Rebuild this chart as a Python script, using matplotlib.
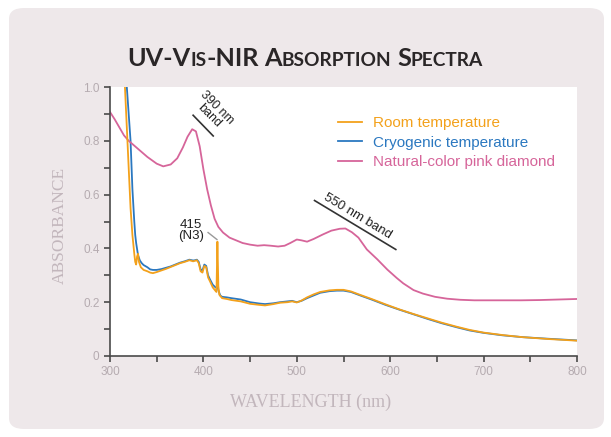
import matplotlib
matplotlib.use("Agg")
import matplotlib.pyplot as plt
from matplotlib.patches import FancyBboxPatch
from matplotlib.ticker import FixedLocator

# ---------------- data ----------------
blue_wl = [318, 320, 322, 324, 326, 327, 328, 330, 332, 334, 336, 340, 343, 346, 350, 355,
           360, 365, 370, 375, 380, 385, 389, 391, 393, 395, 397, 399, 401, 403, 405, 407,
           410, 413, 414, 415, 416, 418, 420, 425, 430, 440, 450, 460, 466, 475, 482, 490,
           495, 500, 505, 511, 518, 525, 535, 543, 550, 558, 568, 580, 595, 610, 625, 640,
           655, 671, 685, 700, 720, 742, 770, 800]
blue_abs = [1.0, 0.9, 0.8, 0.62, 0.5, 0.45, 0.42, 0.375, 0.355, 0.345, 0.338, 0.33, 0.322, 0.32,
            0.32, 0.323, 0.328, 0.333, 0.34, 0.347, 0.352, 0.358, 0.355, 0.356, 0.358, 0.35,
            0.322, 0.318, 0.34, 0.335, 0.3, 0.285, 0.265, 0.255, 0.253, 0.262, 0.245, 0.225,
            0.22, 0.218, 0.215, 0.21, 0.2, 0.195, 0.193, 0.196, 0.2, 0.203, 0.205, 0.2, 0.205,
            0.215, 0.225, 0.235, 0.241, 0.243, 0.243, 0.238, 0.225, 0.21, 0.19, 0.172, 0.155,
            0.138, 0.122, 0.107, 0.095, 0.086, 0.077, 0.07, 0.064, 0.058]

orange_wl = [316, 318, 320, 322, 324, 326, 327, 328, 329, 330, 331, 333, 336, 340, 343, 346,
             350, 355, 360, 365, 370, 375, 380, 385, 389, 391, 393, 395, 397, 399, 401, 403,
             405, 407, 410, 413, 414, 415, 416, 417, 420, 425, 430, 440, 450, 460, 466, 475,
             482, 490, 495, 500, 505, 511, 518, 525, 535, 543, 550, 558, 568, 580, 595, 610,
             625, 640, 655, 671, 685, 700, 720, 742, 770, 800]
orange_abs = [1.0, 0.85, 0.7, 0.55, 0.45, 0.38, 0.35, 0.34, 0.37, 0.38, 0.35, 0.33, 0.32,
              0.315, 0.31, 0.308, 0.312, 0.318, 0.324, 0.331, 0.338, 0.345, 0.35, 0.356,
              0.352, 0.354, 0.356, 0.345, 0.315, 0.31, 0.335, 0.33, 0.292, 0.278, 0.255,
              0.242, 0.238, 0.425, 0.26, 0.228, 0.215, 0.212, 0.208, 0.203, 0.194, 0.19,
              0.188, 0.193, 0.198, 0.2, 0.203, 0.199, 0.206, 0.218, 0.229, 0.238, 0.244,
              0.246, 0.246, 0.24, 0.227, 0.212, 0.192, 0.173, 0.156, 0.14, 0.124, 0.109,
              0.097, 0.087, 0.078, 0.07, 0.063, 0.057]

pink_wl = [300, 305, 310, 315, 320, 325, 330, 340, 350, 357, 365, 372, 378, 383, 388, 392,
           396, 400, 404, 408, 412, 416, 421, 428, 435, 442, 450, 458, 465, 472, 480, 487,
           493, 500, 505, 511, 518, 528, 537, 546, 552, 559, 566, 575, 586, 597, 607, 614,
           625, 635, 648, 661, 675, 690, 700, 720, 740, 760, 780, 800]
pink_abs = [0.907, 0.88, 0.85, 0.82, 0.80, 0.785, 0.77, 0.74, 0.715, 0.705, 0.712, 0.735,
            0.775, 0.815, 0.843, 0.835, 0.78, 0.694, 0.62, 0.56, 0.51, 0.48, 0.459, 0.44,
            0.43, 0.42, 0.414, 0.41, 0.412, 0.41, 0.407, 0.41, 0.42, 0.433, 0.43, 0.425,
            0.435, 0.452, 0.466, 0.473, 0.474, 0.46, 0.44, 0.396, 0.36, 0.321, 0.29, 0.27,
            0.245, 0.232, 0.22, 0.213, 0.209, 0.207, 0.207, 0.207, 0.207, 0.208, 0.21, 0.212]

series_labels = ["Room temperature", "Cryogenic temperature", "Natural-color pink diamond"]
x_ticklabels = ["300", "400", "500", "600", "700", "800"]
y_ticklabels = ["0", "0.2", "0.4", "0.6", "0.8", "1.0"]

# ---------------- figure ----------------
W, H = 611, 437
fig = plt.figure(figsize=(W / 100, H / 100), dpi=100)
fig.patch.set_facecolor("white")

panel = FancyBboxPatch((9 / W, 8 / H), 595 / W, 421 / H,
                       boxstyle="round,pad=0,rounding_size=0.025",
                       transform=fig.transFigure, facecolor="#eee8ea",
                       edgecolor="none", zorder=-10)
fig.patches.append(panel)

ax = fig.add_axes([110 / W, 1 - 356 / H, 467 / W, 269 / H])
ax.set_zorder(1)
ax.set_facecolor("white")

orange = "#f3a11b"
blue = "#2b78c0"
pink = "#d6659a"

ax.plot(orange_wl, orange_abs, color=orange, lw=1.3, label=series_labels[0], zorder=3)
ax.plot(blue_wl, blue_abs, color=blue, lw=1.3, label=series_labels[1], zorder=2)
ax.plot(pink_wl, pink_abs, color=pink, lw=1.3, label=series_labels[2], zorder=2)

ax.set_xlim(300, 800)
ax.set_ylim(0, 1.0)

for s in ["top", "right"]:
    ax.spines[s].set_visible(False)
for s in ["left", "bottom"]:
    ax.spines[s].set_color("#4a4a4a")
    ax.spines[s].set_linewidth(1.2)

ax.xaxis.set_major_locator(FixedLocator([300, 400, 500, 600, 700, 800]))
ax.xaxis.set_minor_locator(FixedLocator([350, 450, 550, 650, 750]))
ax.yaxis.set_major_locator(FixedLocator([0, 0.2, 0.4, 0.6, 0.8, 1.0]))
ax.yaxis.set_minor_locator(FixedLocator([0.1, 0.3, 0.5, 0.7, 0.9]))
ax.set_xticklabels(x_ticklabels)
ax.set_yticklabels(y_ticklabels)
ax.tick_params(which="both", direction="out", length=4, width=1.2, color="#4a4a4a",
               labelsize=8.5, labelcolor="#b5abb0")
for lab in ax.get_xticklabels() + ax.get_yticklabels():
    lab.set_family("Liberation Sans")

ax.set_xlabel("WAVELENGTH (nm)", family="Liberation Serif", fontsize=13,
              color="#c2b6bc")
ax.xaxis.set_label_coords((311 - 110) / 467, -(402 - 356) / 269)
ax.xaxis.label.set_va("center")
ax.set_ylabel("ABSORBANCE", family="Liberation Serif", fontsize=12.5, color="#c2b6bc")
ax.yaxis.set_label_coords(-(110 - 60) / 467, (356 - 225) / 269)
ax.yaxis.label.set_va("center")

leg = ax.legend(loc="upper left", bbox_to_anchor=((338 - 110) / 467, (356 - 116) / 269),
                frameon=False, handlelength=1.6, handletextpad=0.7, labelspacing=0.36,
                borderpad=0, borderaxespad=0,
                prop={"family": "Liberation Sans", "size": 11})
for txt, c in zip(leg.get_texts(), [orange, blue, pink]):
    txt.set_color(c)

# annotations
ann = dict(family="Liberation Sans", color="#222222")
ax.text(410.5, 0.908, "390 nm\nband", rotation=-45, rotation_mode="anchor",
        ha="center", va="center", multialignment="center", fontsize=9,
        linespacing=0.95, **ann)
ax.plot([389, 410.5], [0.895, 0.818], color="#333333", lw=1.2)

ax.text(565.5, 0.521, "550 nm band", rotation=-31, rotation_mode="anchor",
        ha="center", va="center", fontsize=9.5, **ann)
ax.plot([519, 606], [0.578, 0.396], color="#333333", lw=1.2)

ax.text(387, 0.466, "415\n(N3)", ha="center", va="center", multialignment="center",
        fontsize=9.5, linespacing=0.95, **ann)
ax.plot([405, 414.5], [0.459, 0.433], color="#999999", lw=1.0)

# title in small caps
renderer = fig.canvas.get_renderer()
BIG, SMALL = 18.2, 13.8
pieces = [("UV-V", BIG), ("IS", SMALL), ("-NIR", BIG), (None, 5.5), ("A", BIG),
          ("BSORPTION", SMALL), (None, 5.5), ("S", BIG), ("PECTRA", SMALL)]
tfont = dict(family="Lato", weight="bold", color="#2a2627")
objs = []
x = 0.0
for s, size in pieces:
    if s is None:
        x += size
        continue
    t = fig.text(0, 0, s, fontsize=size, va="baseline", ha="left", **tfont)
    w = t.get_window_extent(renderer).width
    objs.append((t, x))
    x += w
total = x
x0 = 305 - total / 2
ybase = H - 66
for t, off in objs:
    t.set_position(((x0 + off) / W, ybase / H))

fig.savefig("out.png", dpi=100, facecolor=fig.get_facecolor())
